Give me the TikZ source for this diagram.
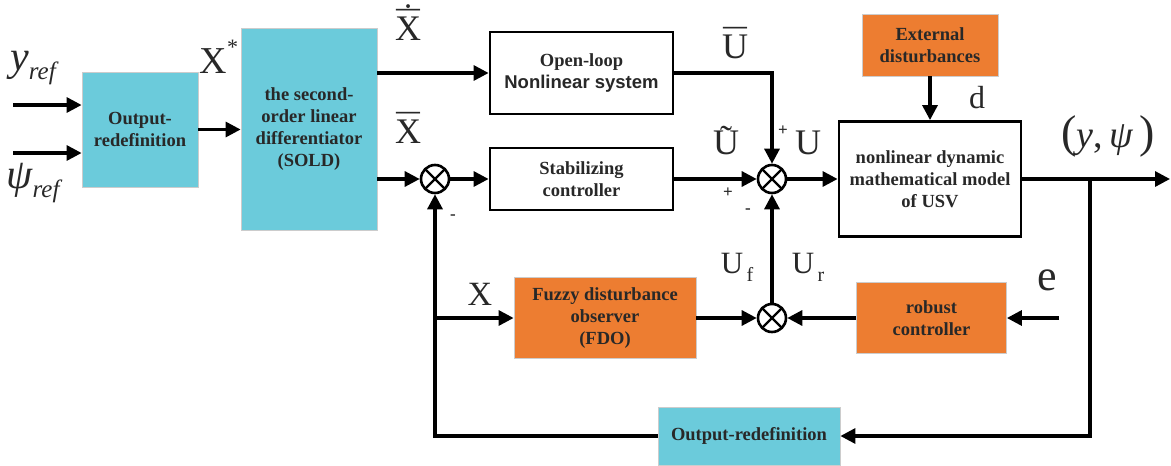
\documentclass[tikz,border=0pt]{standalone}
\usepackage{fontspec}
\setmainfont{Liberation Serif}
\newfontfamily\arialfont{Liberation Sans}
\usetikzlibrary{arrows.meta}
\definecolor{cyanbox}{RGB}{107,203,219}
\definecolor{orangebox}{RGB}{237,125,49}
\definecolor{txt}{RGB}{40,40,40}
\newcommand{\barred}[1]{\ooalign{#1\cr\hidewidth\raisebox{0.12em}{\scalebox{1.3}[1]{¯}}\hidewidth\cr}}
\newcommand{\dotbarred}[1]{\ooalign{#1\cr\hidewidth\raisebox{0.12em}{\scalebox{1.3}[1]{¯}}\hidewidth\cr\hidewidth\raisebox{0.34em}{˙}\hidewidth\cr}}
\newcommand{\tilded}[1]{\ooalign{#1\cr\hidewidth\raisebox{0.12em}{˜}\hidewidth\cr}}
\begin{document}
\begin{tikzpicture}[x=1pt,y=-1pt,
  boxtext/.style={font=\bfseries\fontsize{18.5}{22}\selectfont, align=center, inner sep=0pt, text=txt},
  wbox/.style={boxtext, draw=black, line width=2.8pt, fill=white},
  cbox/.style={boxtext, draw=black!20, line width=0.8pt, fill=cyanbox},
  obox/.style={boxtext, draw=black!20, line width=0.8pt, fill=orangebox},
  sumnode/.style={circle, draw=black, line width=2.6pt, minimum size=28pt, inner sep=0pt, fill=white,
    path picture={
      \draw[line width=2.4pt] ([shift={(-10pt,-10pt)}]path picture bounding box.center) -- ([shift={(10pt,10pt)}]path picture bounding box.center);
      \draw[line width=2.4pt] ([shift={(-10pt,10pt)}]path picture bounding box.center) -- ([shift={(10pt,-10pt)}]path picture bounding box.center);}},
  arr/.style={-{Triangle[length=15pt,width=15pt]}, line width=3.2pt},
  lab/.style={font=\fontsize{36}{40}\selectfont, text=txt, inner sep=0pt},
  sign/.style={font=\bfseries\fontsize{17}{18}\selectfont, inner sep=0pt, text=txt}]
\useasboundingbox (0,0) rectangle (1171,466);
% blocks
\node[cbox, minimum width=116pt, minimum height=115pt] (od1) at (140,129.5) {Output-\\redefinition};
\node[cbox, minimum width=136pt, minimum height=202pt] (sold) at (309,129) {the second-\\order linear\\differentiator\\(SOLD)};
\node[wbox, minimum width=183pt, minimum height=82pt] (ol) at (581.5,73) {Open-loop\\{\arialfont\bfseries Nonlinear system}};
\node[wbox, minimum width=183pt, minimum height=62pt] (stab) at (581.5,179) {Stabilizing\\controller};
\node[wbox, minimum width=182pt, minimum height=115pt] (nl) at (930,179) {nonlinear dynamic\\mathematical model\\of USV};
\node[obox, minimum width=136pt, minimum height=62pt] (ext) at (930,45) {External\\disturbances};
\node[obox, minimum width=182pt, minimum height=81pt] (fdo) at (605,318) {Fuzzy disturbance\\observer\\(FDO)};
\node[obox, minimum width=150pt, minimum height=71pt] (rob) at (931.5,318) {robust\\controller};
\node[cbox, minimum width=182pt, minimum height=58pt] (od2) at (749,436) {Output-redefinition};
% summing junctions
\node[sumnode] (s1) at (435,179) {};
\node[sumnode] (s2) at (772,179) {};
\node[sumnode] (s3) at (772,318) {};
% free ends
\coordinate (yin) at (13,105);
\coordinate (psin) at (13,153);
\coordinate (out) at (1170,179);
\coordinate (br) at (1090,179);
\coordinate (xb) at (435,318);
\coordinate (ein) at (1059,318);
% connectors
\draw[arr] (yin) -- (od1.west |- yin);
\draw[arr] (psin) -- (od1.west |- psin);
\draw[arr] (od1.east) -- (od1.east -| sold.west);
\draw[arr] (sold.east |- ol.west) -- (ol.west);
\draw[arr] (sold.east |- s1.west) -- (s1.west);
\draw[arr] (s1.east) -- (stab.west);
\draw[arr] (stab.east) -- (s2.west);
\draw[arr] (ol.east) -| (s2.north);
\draw[arr] (s2.east) -- (nl.west);
\draw[arr] (ext.south) -- (nl.north);
\draw[arr] (nl.east) -- (out);
\draw[arr] (br) |- (od2.east);
\draw[arr] (od2.west) -| (s1.south);
\draw[arr] (xb) -- (fdo.west);
\draw[arr] (fdo.east) -- (s3.west);
\draw[arr] (rob.west) -- (s3.east);
\draw[arr] (ein) -- (rob.east);
\draw[arr] (s3.north) -- (s2.south);
% labels
\node[lab, font=\fontsize{42}{44}\selectfont\itshape] (lyref) at (33,68) {y\raisebox{-0.22em}{\fontsize{25}{26}\selectfont ref}};
\node[lab, font=\fontsize{42}{44}\selectfont\itshape] (lpsiref) at (33,183) {ψ\raisebox{-0.22em}{\fontsize{25}{26}\selectfont ref}};
\node[lab, font=\fontsize{38}{40}\selectfont] (lxstar) at (219,57) {X\raisebox{0.5em}{\fontsize{22}{24}\selectfont *}};
\node[lab] (lxdot) at (408,29) {\dotbarred{X}};
\node[lab] (lxbar) at (408,132) {\barred{X}};
\node[lab] (lubar) at (735,47) {\barred{U}};
\node[lab] (lutil) at (726,143) {\tilded{U}};
\node[lab] (lu) at (808,143) {U};
\node[lab, font=\fontsize{32}{34}\selectfont] (ld) at (977,98) {d};
\node[lab, font=\fontsize{38}{42}\selectfont] (lypsi) at (1108,136) {{\fontsize{46}{48}\selectfont(}\textit{y},\,\textit{ψ}\,{\fontsize{46}{48}\selectfont)}};
\node[lab, font=\fontsize{34}{36}\selectfont] (lx) at (480,294) {X};
\node[lab, font=\fontsize{31}{34}\selectfont] (luf) at (737,267) {U\raisebox{-0.25em}{\fontsize{20}{22}\selectfont\,f}};
\node[lab, font=\fontsize{31}{34}\selectfont] (lur) at (808,267) {U\raisebox{-0.25em}{\fontsize{20}{22}\selectfont\,r}};
\node[lab, font=\fontsize{44}{46}\selectfont] (le) at (1047,280) {e};
\node[sign] (p1) at (783,131) {+};
\node[sign] (p2) at (728,193) {+};
\node[sign] (m1) at (748,211) {-};
\node[sign] (m2) at (453,217) {-};
\end{tikzpicture}
\end{document}
